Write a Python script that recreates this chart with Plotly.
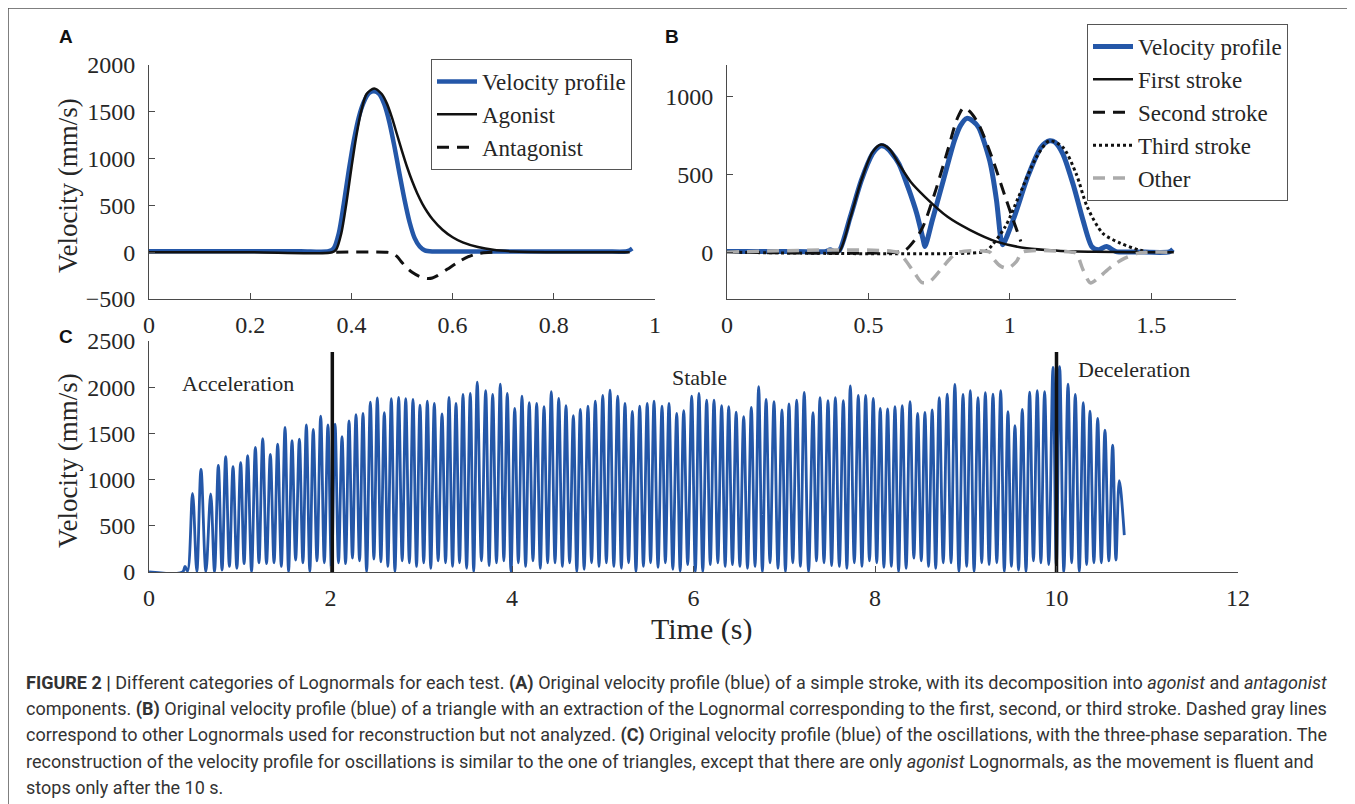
import plotly.graph_objects as go

# ---------------- DATA ----------------
# Panel A
a_vel_t = [0, 0.1, 0.2, 0.3, 0.355, 0.365, 0.375, 0.385, 0.395, 0.405, 0.415, 0.425, 0.435, 0.445,
           0.455, 0.465, 0.475, 0.485, 0.495, 0.505, 0.515, 0.525, 0.535, 0.545, 0.56, 0.6, 0.7,
           0.8, 0.9, 0.945, 0.955]
a_vel_v = [10, 10, 10, 10, 10, 40, 200, 520, 880, 1200, 1450, 1610, 1700, 1720,
           1690, 1580, 1390, 1130, 840, 560, 320, 150, 60, 20, 8, 8, 8,
           8, 8, 10, 40]
a_ago_t = [0, 0.2, 0.362, 0.37, 0.38, 0.39, 0.40, 0.41, 0.42, 0.43, 0.445, 0.46, 0.47, 0.48, 0.49,
           0.50, 0.51, 0.52, 0.53, 0.54, 0.55, 0.56, 0.58, 0.60, 0.62, 0.65, 0.68, 0.72, 0.8, 0.95]
a_ago_v = [0, 0, 0, 30, 200, 520, 900, 1250, 1520, 1690, 1750, 1690, 1590, 1440, 1260,
           1080, 910, 760, 630, 520, 430, 355, 240, 160, 105, 55, 25, 8, 0, 0]
a_ant_t = [0.37, 0.47, 0.48, 0.49, 0.50, 0.51, 0.52, 0.535, 0.55, 0.56, 0.57, 0.59, 0.61, 0.63,
           0.65, 0.67, 0.69]
a_ant_v = [0, 0, -10, -45, -110, -170, -215, -260, -280, -275, -250, -180, -110, -50,
           -15, -3, 0]

# Panel B
b_vel_t = [0, 0.2, 0.35, 0.365, 0.38, 0.397, 0.436, 0.475, 0.514, 0.53, 0.545, 0.56, 0.58, 0.608,
           0.64, 0.671, 0.694, 0.70, 0.726, 0.765, 0.804, 0.825, 0.848, 0.87, 0.89, 0.929, 0.953,
           0.969, 0.975, 1.016, 1.063, 1.11, 1.125, 1.141, 1.16, 1.188, 1.227, 1.259, 1.29, 1.313,
           1.342, 1.376, 1.45, 1.564, 1.577]
b_vel_v = [5, 5, 5, 15, 5, 10, 227, 460, 629, 665, 682, 675, 640, 566,
           417, 248, 78, 36, 205, 460, 714, 810, 858, 840, 800, 587, 333,
           78, 47, 227, 481, 672, 700, 714, 705, 629, 417, 205, 36, 15,
           36, 4, 2, 2, 19]
b_s1_t = [0.37, 0.397, 0.436, 0.475, 0.514, 0.545, 0.575, 0.61, 0.65, 0.70, 0.78, 0.86, 0.953,
          1.06, 1.17, 1.3, 1.45, 1.58]
b_s1_v = [0, 5, 220, 460, 640, 690, 660, 560, 450, 355, 227, 142, 68, 25, 10, 3, 0, 0]
b_s2_t = [0, 0.6, 0.632, 0.687, 0.734, 0.78, 0.815, 0.837, 0.86, 0.89, 0.937, 0.984, 1.039]
b_s2_v = [0, 0, 15, 142, 375, 650, 860, 926, 900, 820, 608, 354, 68]
b_s3_t = [0, 0.9, 0.922, 0.984, 1.031, 1.094, 1.14, 1.188, 1.235, 1.274, 1.329, 1.392, 1.455, 1.486]
b_s3_v = [0, 0, 15, 163, 354, 608, 714, 672, 502, 290, 121, 57, 15, 4]
b_oth_t = [0, 0.6, 0.621, 0.663, 0.69, 0.718, 0.765, 0.796, 0.82, 0.93, 0.945, 0.969, 0.995, 1.024,
           1.045, 1.22, 1.235, 1.259, 1.285, 1.313, 1.36, 1.407, 1.455, 1.5, 1.58]
b_oth_v = [0, 0, -28, -133, -195, -186, -91, -28, 0, 0, -49, -91, -102, -59,
           0, 0, -6, -112, -197, -165, -91, -38, -6, 0, 0]

# Panel C (oscillations): lead-in, peaks, troughs, tail
c_lead_t = [0, 0.37, 0.397, 0.425]
c_lead_v = [0, 0, 60, 10]
c_peak_t = [0.48, 0.573, 0.68, 0.764, 0.845, 0.926, 1.01, 1.087, 1.172, 1.253,
            1.337, 1.418, 1.499, 1.576, 1.657, 1.734, 1.81, 1.892, 1.972, 2.05,
            2.127, 2.204, 2.281, 2.358, 2.439, 2.516, 2.593, 2.67, 2.751, 2.829,
            2.909, 2.986, 3.067, 3.144, 3.229, 3.306, 3.383, 3.46, 3.54, 3.617,
            3.71, 3.787, 3.871, 3.948, 4.03, 4.11, 4.19, 4.272, 4.353, 4.433,
            4.515, 4.595, 4.676, 4.753, 4.837, 4.918, 5.0, 5.08, 5.165, 5.245,
            5.326, 5.407, 5.49, 5.565, 5.653, 5.73, 5.815, 5.892, 5.98, 6.06,
            6.145, 6.226, 6.31, 6.388, 6.47, 6.553, 6.637, 6.718, 6.80, 6.887,
            6.975, 7.052, 7.137, 7.22, 7.317, 7.394, 7.482, 7.563, 7.651, 7.728,
            7.816, 7.897, 7.981, 8.058, 8.139, 8.22, 8.30, 8.386, 8.47, 8.55,
            8.63, 8.708, 8.796, 8.88, 8.97, 9.05, 9.135, 9.216, 9.30, 9.385,
            9.465, 9.542, 9.623, 9.704, 9.788, 9.869, 9.961, 10.035, 10.127, 10.207,
            10.295, 10.369, 10.454, 10.534, 10.619, 10.692]
c_peak_v = [851, 1111, 844, 1154, 1248, 1140, 1183, 1259, 1349, 1443,
            1273, 1385, 1565, 1421, 1439, 1591, 1544, 1688, 1591, 1601,
            1464, 1634, 1702, 1717, 1839, 1883, 1724, 1875, 1890, 1875,
            1868, 1807, 1850, 1825, 1710, 1890, 1825, 1922, 1933, 2056,
            1962, 1922, 2034, 1933, 1771, 1904, 1832, 1825, 1789, 1951,
            1880, 1800, 1691, 1760, 1796, 1850, 1911, 1969, 1904, 1825,
            1738, 1796, 1825, 1850, 1796, 1825, 1717, 1746, 1904, 1933,
            1861, 1861, 1800, 1789, 1731, 1681, 1782, 2005, 1868, 1843,
            1753, 1818, 1861, 1944, 1724, 1887, 1854, 1887, 1854, 2013,
            1911, 1911, 1880, 1771, 1764, 1789, 1800, 1843, 1717, 1728,
            1753, 1887, 1926, 2031, 1922, 1962, 1887, 1940, 1926, 1962,
            1735, 1583, 1760, 1947, 1962, 1951, 2215, 2222, 2034, 1922,
            1832, 1742, 1663, 1536, 1374, 988]
c_trough_t = [0.527, 0.627, 0.722, 0.805, 0.886, 0.968, 1.048, 1.13, 1.212, 1.295,
              1.378, 1.458, 1.538, 1.616, 1.696, 1.772, 1.851, 1.932, 2.011, 2.088,
              2.166, 2.242, 2.32, 2.398, 2.478, 2.555, 2.632, 2.71, 2.79, 2.869,
              2.948, 3.027, 3.105, 3.186, 3.268, 3.345, 3.422, 3.5, 3.578, 3.663,
              3.748, 3.829, 3.91, 3.989, 4.07, 4.15, 4.231, 4.312, 4.393, 4.474,
              4.555, 4.635, 4.714, 4.795, 4.877, 4.959, 5.04, 5.122, 5.205, 5.285,
              5.366, 5.448, 5.527, 5.609, 5.69, 5.772, 5.853, 5.936, 6.02, 6.102,
              6.185, 6.268, 6.349, 6.429, 6.511, 6.595, 6.678, 6.759, 6.843, 6.931,
              7.013, 7.094, 7.178, 7.268, 7.355, 7.438, 7.522, 7.607, 7.69, 7.772,
              7.856, 7.939, 8.019, 8.098, 8.18, 8.26, 8.343, 8.428, 8.51, 8.59,
              8.669, 8.752, 8.838, 8.925, 9.01, 9.092, 9.176, 9.258, 9.342, 9.425,
              9.503, 9.582, 9.664, 9.746, 9.828, 9.915, 9.998, 10.081, 10.167, 10.251,
              10.332, 10.412, 10.494, 10.577, 10.655]
c_trough_v = [5, 5, 5, 20, 60, 40, 90, 5, 100, 90,
              100, 60, 5, 130, 100, 5, 120, 100, 5, 100,
              90, 150, 120, 5, 140, 110, 60, 5, 120, 100,
              60, 100, 40, 120, 100, 60, 100, 40, 5, 120,
              70, 100, 120, 5, 100, 60, 120, 40, 100, 100,
              60, 100, 5, 30, 100, 60, 100, 60, 40, 100,
              5, 60, 100, 50, 100, 30, 10, 80, 5, 5,
              80, 100, 60, 80, 60, 40, 60, 5, 100, 40,
              5, 100, 60, 5, 120, 100, 70, 60, 40, 100,
              60, 120, 100, 50, 60, 5, 40, 150, 120, 60,
              40, 100, 100, 5, 60, 5, 100, 80, 100, 5,
              60, 20, 5, 120, 100, 80, 60, 5, 100, 5,
              80, 100, 100, 120, 130]
c_tail_t = [10.747]
c_tail_v = [400]

c_phase_t = [2.02, 10.0]          # phase separators
c_phase_top = 2380
c_labels = ["Acceleration", "Stable", "Deceleration"]
c_label_t = [0.98, 6.07, 10.85]
c_label_v = [2040, 2100, 2190]

# ---------------- BUILD ----------------
c_t = list(c_lead_t)
c_v = list(c_lead_v)
for i in range(len(c_peak_t)):
    c_t.append(c_peak_t[i]); c_v.append(c_peak_v[i])
    if i < len(c_trough_t):
        c_t.append(c_trough_t[i]); c_v.append(c_trough_v[i])
c_t += c_tail_t
c_v += c_tail_v

W, H = 1355, 804
OFF = 8  # page body offset compensation
def px(x): return (x - OFF) / W
def py(y): return 1 - (y - OFF) / H

SERIF = "Liberation Serif, Times New Roman, serif"
SANS = "Liberation Sans, Arial, sans-serif"
NARROW = "Liberation Sans Narrow, Arial Narrow, Roboto, sans-serif"
INK = "#262626"
AX = "#4a4a4a"
BLUE = "#2457a8"
GRAY = "#ababab"

fig = go.Figure()

# Panel A
fig.add_trace(go.Scatter(x=a_vel_t, y=a_vel_v, mode="lines", name="Velocity profile",
                         line=dict(color=BLUE, width=4.5, shape="spline", smoothing=0.8),
                         xaxis="x", yaxis="y", legend="legend"))
fig.add_trace(go.Scatter(x=a_ago_t, y=a_ago_v, mode="lines", name="Agonist",
                         line=dict(color="#111111", width=2.5, shape="spline", smoothing=0.8),
                         xaxis="x", yaxis="y", legend="legend"))
fig.add_trace(go.Scatter(x=a_ant_t, y=a_ant_v, mode="lines", name="Antagonist",
                         line=dict(color="#111111", width=3, dash="12px,8px", shape="spline", smoothing=0.8),
                         xaxis="x", yaxis="y", legend="legend"))

# Panel B
fig.add_trace(go.Scatter(x=b_vel_t, y=b_vel_v, mode="lines", name="Velocity profile",
                         line=dict(color=BLUE, width=5, shape="spline", smoothing=0.7),
                         xaxis="x2", yaxis="y2", legend="legend2"))
fig.add_trace(go.Scatter(x=b_s1_t, y=b_s1_v, mode="lines", name="First stroke",
                         line=dict(color="#111111", width=2.5, shape="spline", smoothing=0.8),
                         xaxis="x2", yaxis="y2", legend="legend2"))
fig.add_trace(go.Scatter(x=b_s2_t, y=b_s2_v, mode="lines", name="Second stroke",
                         line=dict(color="#111111", width=3, dash="12px,8px", shape="spline", smoothing=0.8),
                         xaxis="x2", yaxis="y2", legend="legend2"))
fig.add_trace(go.Scatter(x=b_s3_t, y=b_s3_v, mode="lines", name="Third stroke",
                         line=dict(color="#111111", width=3, dash="3px,3px", shape="spline", smoothing=0.8),
                         xaxis="x2", yaxis="y2", legend="legend2"))
fig.add_trace(go.Scatter(x=b_oth_t, y=b_oth_v, mode="lines", name="Other",
                         line=dict(color=GRAY, width=3.5, dash="12px,8px", shape="spline", smoothing=0.8),
                         xaxis="x2", yaxis="y2", legend="legend2"))

# Panel C
fig.add_trace(go.Scatter(x=c_t, y=c_v, mode="lines", showlegend=False,
                         line=dict(color=BLUE, width=2.8, shape="spline", smoothing=1),
                         xaxis="x3", yaxis="y3"))
for t in c_phase_t:
    fig.add_trace(go.Scatter(x=[t, t], y=[0, c_phase_top], mode="lines", showlegend=False,
                             line=dict(color="#111111", width=3.5), xaxis="x3", yaxis="y3"))

common = dict(showline=True, linecolor=AX, linewidth=1, ticks="inside", ticklen=6,
              tickcolor=AX, tickwidth=1, showgrid=False, zeroline=False, fixedrange=True,
              automargin=False, tickfont=dict(family=SERIF, size=24, color=INK))
xcommon = dict(common, ticklabelstandoff=4)
ycommon = dict(common, ticklabelstandoff=8)

legend_style = dict(xanchor="left", yanchor="top", bordercolor="#555555", borderwidth=1,
                    bgcolor="white", font=dict(family=SERIF, size=23, color=INK),
                    tracegroupgap=0, traceorder="normal", itemwidth=40)

annotations = []
# panel letters
for lab, x, y in [("A", 66, 37), ("B", 672, 37), ("C", 66, 337)]:
    annotations.append(dict(text="<b>%s</b>" % lab, x=px(x), y=py(y), xref="paper", yref="paper",
                            showarrow=False, xanchor="center", yanchor="middle",
                            font=dict(family=SANS, size=19, color="#111111")))
# axis titles
for x, y in [(68, 185), (68, 460)]:
    annotations.append(dict(text="Velocity (mm/s)", x=px(x), y=py(y), xref="paper", yref="paper",
                            showarrow=False, textangle=-90, xanchor="center", yanchor="middle",
                            font=dict(family=SERIF, size=27, color=INK)))
annotations.append(dict(text="Time (s)", x=px(702), y=py(629), xref="paper", yref="paper",
                        showarrow=False, xanchor="center", yanchor="middle",
                        font=dict(family=SERIF, size=30, color=INK)))
# phase labels
for lab, t, v in zip(c_labels, c_label_t, c_label_v):
    annotations.append(dict(text=lab, x=t, y=v, xref="x3", yref="y3", showarrow=False,
                            xanchor="center", yanchor="middle",
                            font=dict(family=SERIF, size=22, color=INK)))
# caption
caption = [
    "<b>FIGURE 2 |</b> Different categories of Lognormals for each test. <b>(A)</b> Original velocity profile (blue) of a simple stroke, with its decomposition into <i>agonist</i> and <i>antagonist</i>",
    "components. <b>(B)</b> Original velocity profile (blue) of a triangle with an extraction of the Lognormal corresponding to the first, second, or third stroke. Dashed gray lines",
    "correspond to other Lognormals used for reconstruction but not analyzed. <b>(C)</b> Original velocity profile (blue) of the oscillations, with the three-phase separation. The",
    "reconstruction of the velocity profile for oscillations is similar to the one of triangles, except that there are only <i>agonist</i> Lognormals, as the movement is fluent and",
    "stops only after the 10 s.",
]
for i, line in enumerate(caption):
    annotations.append(dict(text=line, x=px(24), y=py(683 + 26 * i), xref="paper", yref="paper",
                            showarrow=False, xanchor="left", yanchor="middle", align="left",
                            font=dict(family=NARROW, size=18, color="#333333")))

fig.update_layout(
    width=W, height=H, margin=dict(l=0, r=0, t=0, b=0, pad=0, autoexpand=False),
    paper_bgcolor="white", plot_bgcolor="white",
    xaxis=dict(xcommon, domain=[px(149), px(655)], range=[0, 1],
               tickvals=[0, 0.2, 0.4, 0.6, 0.8, 1], anchor="y"),
    yaxis=dict(ycommon, domain=[py(299), py(65)], range=[-500, 2000],
               tickvals=[-500, 0, 500, 1000, 1500, 2000], anchor="x"),
    xaxis2=dict(xcommon, domain=[px(727), px(1236)], range=[0, 1.8],
                tickvals=[0, 0.5, 1, 1.5], anchor="y2"),
    yaxis2=dict(ycommon, domain=[py(299), py(65)], range=[-300, 1200],
                tickvals=[0, 500, 1000], anchor="x2"),
    xaxis3=dict(xcommon, domain=[px(149), px(1238)], range=[0, 12],
                tickvals=[0, 2, 4, 6, 8, 10, 12], anchor="y3"),
    yaxis3=dict(ycommon, domain=[py(572), py(341)], range=[0, 2500],
                tickvals=[0, 500, 1000, 1500, 2000, 2500], anchor="x3"),
    legend=dict(legend_style, x=px(431), y=py(59)),
    legend2=dict(legend_style, x=px(1087), y=py(24)),
    annotations=annotations,
    shapes=[dict(type="rect", xref="paper", yref="paper", x0=px(8), y0=-0.05, x1=1.05, y1=py(8),
                 line=dict(color="#555555", width=1.5), layer="above")],
)

fig.write_html("out.html")
